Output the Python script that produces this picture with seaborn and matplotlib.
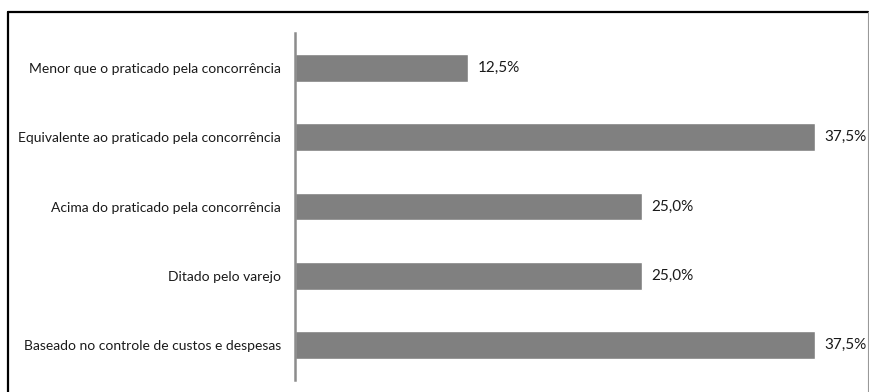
import matplotlib
matplotlib.use("Agg")
import matplotlib.pyplot as plt
import seaborn as sns
import pandas as pd
from matplotlib.lines import Line2D

categories = [
    "Menor que o praticado pela concorrência",
    "Equivalente ao praticado pela concorrência",
    "Acima do praticado pela concorrência",
    "Ditado pelo varejo",
    "Baseado no controle de custos e despesas",
]
values = [12.5, 37.5, 25.0, 25.0, 37.5]
value_labels = ["12,5%", "37,5%", "25,0%", "25,0%", "37,5%"]

df = pd.DataFrame({"cat": categories, "val": values})

sns.set_theme(style="white")
plt.rcParams["font.family"] = ["Lato", "DejaVu Sans"]

W, H = 869, 392
fig = plt.figure(figsize=(W / 100, H / 100), dpi=100)
ax_left, ax_right_37 = 295, 815
xmax = 40
ax_w = (ax_right_37 - ax_left) * xmax / 37.5
ax_top, ax_bottom = 33, 380
ax = fig.add_axes([ax_left / W, (H - ax_bottom) / H, ax_w / W, (ax_bottom - ax_top) / H])

sns.barplot(data=df, x="val", y="cat", color="#808080", saturation=1, width=0.4,
            orient="h", ax=ax)
ax.set_xlim(0, xmax)
ax.set_ylim(4.5, -0.5)
ax.set_xlabel("")
ax.set_ylabel("")
ax.set_xticks([])
for s in ["top", "right", "bottom"]:
    ax.spines[s].set_visible(False)
ax.spines["left"].set_color("#8c8c8c")
ax.spines["left"].set_linewidth(1.8)
ax.tick_params(axis="y", length=0, pad=10, labelsize=10, labelcolor="#1a1a1a")

for i, (v, lab) in enumerate(zip(values, value_labels)):
    ax.annotate(lab, xy=(v, i), xytext=(7, 0), textcoords="offset points",
                va="center", ha="left", fontsize=11, color="#1a1a1a")

# frame
fig.add_artist(Line2D([8 / W, 8 / W], [0, (H - 12) / H], color="black", lw=1.6, transform=fig.transFigure))
fig.add_artist(Line2D([8 / W, 867.5 / W], [(H - 12) / H, (H - 12) / H], color="black", lw=1.6, transform=fig.transFigure))
fig.add_artist(Line2D([867.5 / W, 867.5 / W], [0, (H - 12) / H], color="#999999", lw=0.8, transform=fig.transFigure))

fig.savefig("out.png", dpi=100)
